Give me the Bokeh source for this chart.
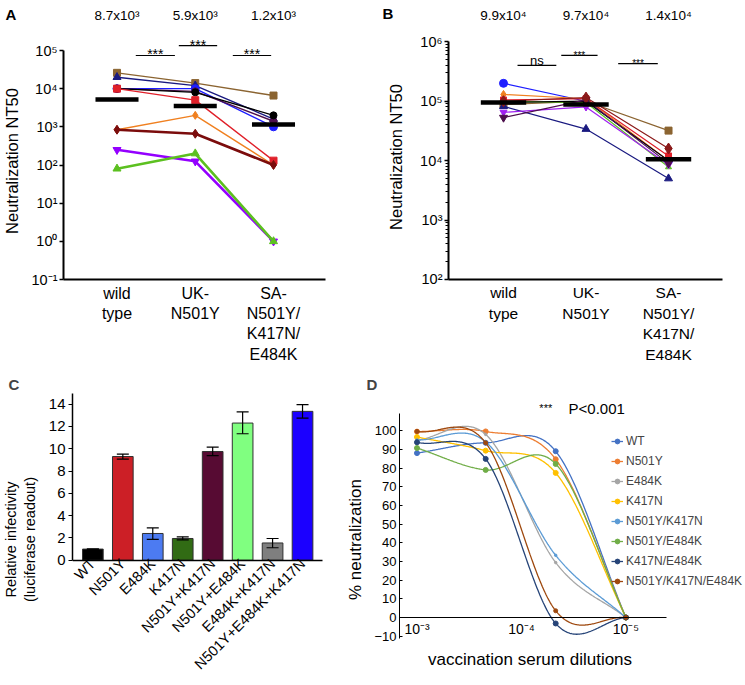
import math
import numpy as np
from bokeh.plotting import figure
from bokeh.layouts import row, column
from bokeh.models import (Range1d, FixedTicker, CustomJSTickFormatter,
                          Legend, LegendItem, ColumnDataSource, Whisker, TeeHead)
from bokeh.embed import file_html
from bokeh.resources import INLINE
from bokeh.core.properties import value

FONT = "Liberation Sans"

# ---------------- Panel A data ----------------
A_CATEGORIES = ["wild\ntype", "UK-\nN501Y", "SA-\nN501Y/\nK417N/\nE484K"]
A_GEOMEAN = ["8.7x10³", "5.9x10³", "1.2x10³"]
A_BROWN = [2.6e4, 1.4e4, 6.6e3]
A_NAVY = [2.0e4, 1.2e4, 1.6e3]
A_BLUE = [1.0e4, 1.0e4, 1.0e3]
A_DPURPLE = [1.0e4, 8.5e3, 1.4e3]
A_BLACK = [1.0e4, 8.0e3, 2.0e3]
A_RED = [1.0e4, 5.0e3, 1.3e2]
A_ORANGE = [8.4e2, 2.0e3, 1.0e2]
A_DRED = [8.4e2, 6.6e2, 1.0e2]
A_PURPLE = [2.5e2, 1.25e2, 1.0]
A_GREEN = [80, 2.0e2, 1.0]
A_MEDIAN = [5.2e3, 3.5e3, 1.15e3]
A_SIG_TEXT = ["***", "***", "***"]
A_SIG_X0 = [1.24, 1.79, 2.48]
A_SIG_X1 = [1.74, 2.28, 2.97]
A_SIG_Y = [7.4e4, 1.35e5, 7.4e4]

# ---------------- Panel B data ----------------
B_CATEGORIES = ["wild\ntype", "UK-\nN501Y", "SA-\nN501Y/\nK417N/\nE484K"]
B_GEOMEAN = ["9.9x10⁴", "9.7x10⁴", "1.4x10⁴"]
B_BLUE = [2.0e5, 1.0e5, 1.0e4]
B_ORANGE = [1.3e5, 1.1e5, 1.0e4]
B_RED = [1.05e5, 1.1e5, 1.2e4]
B_DRED = [1.0e5, 1.15e5, 1.6e4]
B_BROWN = [8.8e4, 1.0e5, 3.2e4]
B_GREEN = [1.0e5, 9.5e4, 7.8e3]
B_BLACK = [9.5e4, 1.0e5, 1.0e4]
B_NAVY = [8.2e4, 3.4e4, 5.0e3]
B_PURPLE = [6.5e4, 8.0e4, 8.5e3]
B_DPURPLE = [5.3e4, 1.05e5, 9.0e3]
B_MEDIAN = [9.5e4, 8.8e4, 1.05e4]
B_SIG_TEXT = ["ns", "***", "***"]
B_SIG_X0 = [1.17, 1.70, 2.39]
B_SIG_X1 = [1.64, 2.14, 2.87]
B_SIG_Y = [4.0e5, 5.9e5, 4.3e5]

# ---------------- Panel C data ----------------
C_LABELS = ["WT", "N501Y", "E484K", "K417N", "N501Y+K417N", "N501Y+E484K",
            "E484K+K417N", "N501Y+E484K+K417N"]
C_VALUES = [1.0, 9.3, 2.4, 1.95, 9.75, 12.3, 1.55, 13.35]
C_ERR_LOW = [1.0, 9.07, 1.88, 1.82, 9.38, 11.34, 1.12, 12.75]
C_ERR_HIGH = [1.0, 9.52, 2.9, 2.1, 10.15, 13.3, 1.95, 13.95]
C_COLORS = ["#000000", "#CC1F26", "#4C7BF2", "#316B14", "#570B33",
            "#80FF80", "#7F7F7F", "#1B00FF"]

# ---------------- Panel D data ----------------
D_DILUTIONS = [1e-3, 2.2e-4, 4.7e-5, 1e-5]
D_NAMES = ["WT", "N501Y", "E484K", "K417N", "N501Y/K417N", "N501Y/E484K",
           "K417N/E484K", "N501Y/K417N/E484K"]
D_WT = [88.0, 93.5, 89.0, 0.0]
D_N501Y = [99.5, 99.6, 84.7, 0.0]
D_E484K = [95.0, 98.0, 29.4, 0.0]
D_K417N = [96.6, 89.3, 77.4, 0.0]
D_N501Y_K417N = [95.0, 94.0, 33.3, 0.0]
D_N501Y_E484K = [90.7, 79.0, 82.2, 0.0]
D_K417N_E484K = [93.8, 84.9, -3.2, 0.0]
D_N501Y_K417N_E484K = [99.6, 93.5, 3.6, 0.0]
D_COLORS = ["#4472C4", "#ED7D31", "#A5A5A5", "#FFC000", "#5B9BD5",
            "#70AD47", "#264478", "#9E480E"]

SUP_JS = """
const m = {"-":"⁻","0":"⁰","1":"¹","2":"²","3":"³","4":"⁴","5":"⁵","6":"⁶","7":"⁷","8":"⁸","9":"⁹"};
const e = Math.round(Math.log10(tick));
return "10" + String(e).split("").map(c => m[c]).join("");
"""


def base_style(p):
    p.outline_line_color = None
    p.xgrid.visible = False
    p.ygrid.visible = False
    p.background_fill_color = "white"
    p.border_fill_color = "white"
    for ax in p.axis:
        ax.major_label_text_font = FONT
        ax.axis_label_text_font = FONT
        ax.axis_label_text_font_style = "normal"
        ax.axis_line_color = "black"
        ax.major_tick_line_color = "black"
        ax.minor_tick_line_color = "black"
        ax.major_label_text_color = "black"
        ax.axis_label_text_color = "black"


def hermite_curve(u, v, n=240):
    """Smooth cubic Hermite path through the points (finite-difference tangents)."""
    u = np.asarray(u, float)
    v = np.asarray(v, float)
    m = np.empty_like(v)
    m[0] = (v[1] - v[0]) / (u[1] - u[0])
    m[-1] = (v[-1] - v[-2]) / (u[-1] - u[-2])
    m[1:-1] = (v[2:] - v[:-2]) / (u[2:] - u[:-2])
    us, vs = [], []
    for i in range(len(u) - 1):
        h = u[i + 1] - u[i]
        s = np.linspace(0, 1, n // (len(u) - 1))
        h00 = 2 * s ** 3 - 3 * s ** 2 + 1
        h10 = s ** 3 - 2 * s ** 2 + s
        h01 = -2 * s ** 3 + 3 * s ** 2
        h11 = s ** 3 - s ** 2
        us.append(u[i] + s * h)
        vs.append(h00 * v[i] + h10 * h * m[i] + h01 * v[i + 1] + h11 * h * m[i + 1])
    return np.concatenate(us), np.concatenate(vs)


def scatter_panel(p, cats, series, medians, geo, geo_y, sig_text, sig_x0, sig_x1, sig_y,
                  sig_sizes, sig_offsets, cat_size, ticks, minor, bounds_y, bounds_x,
                  yaxis_x, xaxis_y, letter, letter_xy, ylabel_xy):
    xs = list(range(1, len(cats) + 1))
    base_style(p)
    ya = p.yaxis[0]
    ya.fixed_location = yaxis_x
    ya.ticker = FixedTicker(ticks=ticks, minor_ticks=minor)
    ya.formatter = CustomJSTickFormatter(code=SUP_JS)
    ya.bounds = bounds_y
    ya.axis_line_width = 2
    ya.major_tick_line_width = 1.5
    ya.major_tick_in = 0
    ya.major_tick_out = 4
    ya.minor_tick_in = 0
    ya.minor_tick_out = 3
    ya.major_label_text_font_size = "14.5px"
    ya.major_label_standoff = 2
    xa = p.xaxis[0]
    xa.fixed_location = xaxis_y
    xa.ticker = FixedTicker(ticks=xs, minor_ticks=[])
    xa.major_label_overrides = {x: c for x, c in zip(xs, cats)}
    xa.bounds = bounds_x
    xa.axis_line_width = 2
    xa.major_tick_out = 0
    xa.major_tick_in = 0
    xa.major_label_text_font_size = cat_size
    xa.major_label_text_line_height = 1.2
    xa.major_label_standoff = 5

    for vals, color, marker, size, lw in series:
        p.line(xs, vals, line_color=color, line_width=lw)
        p.scatter(xs, vals, marker=marker, size=size, fill_color=color, line_color=color)
    p.segment(x0=[x - 0.275 for x in xs], x1=[x + 0.275 for x in xs], y0=medians, y1=medians,
              line_color="black", line_width=4.5, line_cap="butt")
    p.text(x=xs, y=[geo_y] * len(xs), text=geo, text_font=value(FONT),
           text_font_size="13.5px", text_align="center", text_baseline="middle")
    p.segment(x0=sig_x0, x1=sig_x1, y0=sig_y, y1=sig_y, line_color="black", line_width=1.2)
    src = ColumnDataSource(dict(x=[(a + b) / 2 for a, b in zip(sig_x0, sig_x1)], y=sig_y,
                                t=sig_text, s=sig_sizes, o=sig_offsets))
    p.text(x="x", y="y", text="t", text_font_size="s", y_offset="o", source=src,
           text_font=value(FONT), text_align="center", text_baseline="alphabetic")
    p.text(x=[ylabel_xy[0]], y=[ylabel_xy[1]], text=["Neutralization NT50"],
           angle=math.pi / 2, text_font=value(FONT), text_font_size="16.5px",
           text_align="center", text_baseline="middle")
    p.text(x=[letter_xy[0]], y=[letter_xy[1]], text=[letter], text_font=value(FONT),
           text_font_size="15px", text_font_style="bold", text_align="left",
           text_baseline="top")


def panel_title(p, text, offset):
    p.title.text = text
    p.title.align = "left"
    p.title.offset = offset
    p.title.standoff = 2
    p.title.text_font = FONT
    p.title.text_font_size = "15px"
    p.title.text_font_style = "bold"


# ---------------- Panel A ----------------
pA = figure(width=370, height=372, x_range=Range1d(-0.4888, 3.984),
            y_range=Range1d(10 ** -3.436, 10 ** 6.31), y_axis_type="log",
            output_backend="svg", toolbar_location=None,
            min_border_left=0, min_border_right=20, min_border_top=0, min_border_bottom=0)
A_SERIES = [
    (A_BROWN, "#8B6431", "square", 7, 1.4),
    (A_NAVY, "#1A1A80", "triangle", 8, 1.4),
    (A_BLUE, "#1E1EFF", "circle", 8, 1.4),
    (A_DPURPLE, "#4D0F4D", "circle", 7, 1.4),
    (A_BLACK, "#000000", "circle", 7, 1.4),
    (A_RED, "#E0202A", "square", 7, 1.4),
    (A_ORANGE, "#F08020", "diamond", 8, 1.4),
    (A_DRED, "#7B0C0C", "diamond", 9, 2.6),
    (A_PURPLE, "#9400FF", "inverted_triangle", 8, 2.6),
    (A_GREEN, "#5CC020", "triangle", 8, 2.6),
]
scatter_panel(pA, A_CATEGORIES, A_SERIES, A_MEDIAN, A_GEOMEAN, 8.3e5, A_SIG_TEXT,
              A_SIG_X0, A_SIG_X1, A_SIG_Y, ["14px"] * 3, [-1, -1, -1], "16px",
              [0.1, 1, 10, 100, 1e3, 1e4, 1e5], [], (0.1, 1e5), (0.316, 3.665),
              0.316, 0.1, "A", (-0.425, 10 ** 6.179), (-0.3355, 127))

# ---------------- Panel B ----------------
pB = figure(width=375, height=372, x_range=Range1d(-0.612, 3.836),
            y_range=Range1d(10 ** 0.4343, 10 ** 6.695), y_axis_type="log",
            output_backend="svg", toolbar_location=None,
            min_border_left=0, min_border_right=8, min_border_top=0, min_border_bottom=0)
B_SERIES = [
    (B_BLUE, "#1E1EFF", "circle", 8, 1.2),
    (B_ORANGE, "#F08020", "diamond", 8, 1.2),
    (B_RED, "#E0202A", "square", 6, 1.2),
    (B_BROWN, "#8B6431", "square", 7, 1.2),
    (B_GREEN, "#5CC020", "triangle", 6, 1.2),
    (B_BLACK, "#000000", "circle", 6, 1.2),
    (B_NAVY, "#1A1A80", "triangle", 8, 1.2),
    (B_PURPLE, "#A020F0", "inverted_triangle", 7, 1.2),
    (B_DPURPLE, "#4D0F4D", "inverted_triangle", 8, 1.2),
    (B_DRED, "#8B1A1A", "diamond", 11, 1.2),
]
B_MINOR = [k * 10 ** n for n in range(2, 6) for k in range(2, 10)]
scatter_panel(pB, B_CATEGORIES, B_SERIES, B_MEDIAN, B_GEOMEAN, 2.77e6, B_SIG_TEXT,
              B_SIG_X0, B_SIG_X1, B_SIG_Y, ["13px", "10px", "10px"], [-5, 0, 0], "15.5px",
              [1e2, 1e3, 1e4, 1e5, 1e6], B_MINOR, (100, 1e6), (0.333, 3.655),
              0.333, 100, "B", (-0.467, 10 ** 6.611), (-0.309, 1.15e4))

# ---------------- Panel C ----------------
pC = figure(width=343, height=313, x_range=Range1d(-0.68, 7.867), y_range=Range1d(-11.23, 14.95),
            output_backend="svg", toolbar_location=None,
            min_border_left=67, min_border_right=15, min_border_top=20, min_border_bottom=0)
base_style(pC)
panel_title(pC, "C", -64)
idx = list(range(len(C_LABELS)))
srcC = ColumnDataSource(dict(x=idx, top=C_VALUES, lo=C_ERR_LOW, hi=C_ERR_HIGH, color=C_COLORS))
pC.vbar(x="x", top="top", bottom=0, width=0.69, fill_color="color", line_color="#303030",
        line_width=1, source=srcC)
wh = Whisker(source=srcC, base="x", upper="hi", lower="lo", line_color="black",
             line_width=1.2, level="annotation",
             upper_head=TeeHead(size=12, line_width=1.2, line_color="black"),
             lower_head=TeeHead(size=12, line_width=1.2, line_color="black"))
pC.add_layout(wh)
yc = pC.yaxis[0]
yc.ticker = FixedTicker(ticks=list(range(0, 15, 2)), minor_ticks=[])
yc.bounds = (0, 14.95)
yc.axis_line_width = 1.5
yc.major_tick_out = 4
yc.major_tick_in = 0
yc.major_label_text_font_size = "15px"
yc.major_label_standoff = 3
yc.axis_label = "Relative infectivity\n(luciferase readout)"
yc.axis_label_text_font_size = "14.5px"
yc.axis_label_text_line_height = 1.15
yc.axis_label_standoff = 8
xc = pC.xaxis[0]
xc.fixed_location = 0
xc.ticker = FixedTicker(ticks=idx, minor_ticks=[])
xc.major_label_overrides = {i: c for i, c in zip(idx, C_LABELS)}
xc.major_label_orientation = math.pi / 4
xc.bounds = (-0.68, 7.66)
xc.axis_line_width = 1.5
xc.major_tick_out = 0
xc.major_tick_in = 0
xc.major_label_text_font_size = "14.5px"
xc.major_label_standoff = 1

# ---------------- Panel D ----------------
pD = figure(width=402, height=313, x_axis_type="log",
            x_range=Range1d(10 ** -2.8325, 10 ** -6.145), y_range=Range1d(-36.4, 119.9),
            output_backend="svg", toolbar_location=None,
            min_border_left=52, min_border_right=0, min_border_top=20, min_border_bottom=0)
base_style(pD)
panel_title(pD, "D", -33)
D_SERIES = [D_WT, D_N501Y, D_E484K, D_K417N, D_N501Y_K417N, D_N501Y_E484K,
            D_K417N_E484K, D_N501Y_K417N_E484K]
D_MARK = [5, 5, 2.5, 5, 2.5, 5, 5, 4]
ulog = np.log10(D_DILUTIONS)
items = []
for name, vals, color, msize in zip(D_NAMES, D_SERIES, D_COLORS, D_MARK):
    cu, cv = hermite_curve(ulog, vals)
    lr = pD.line(10 ** cu, cv, line_color=color, line_width=1.3)
    sr = pD.scatter(D_DILUTIONS, vals, marker="circle", size=msize, fill_color=color,
                    line_color=color)
    items.append(LegendItem(label=name, renderers=[lr, sr]))
leg = Legend(items=items, location=(212, 97), label_text_font=FONT,
             label_text_font_size="12px", glyph_width=12, glyph_height=14,
             label_height=14, label_standoff=3, spacing=6, padding=0, margin=0,
             background_fill_alpha=0, border_line_alpha=0)
pD.add_layout(leg)
xd = pD.xaxis[0]
xd.fixed_location = 0
xd.ticker = FixedTicker(ticks=[1e-3, 1e-4, 1e-5], minor_ticks=[])
xd.formatter = CustomJSTickFormatter(code=SUP_JS)
xd.bounds = (10 ** -2.8325, 10 ** -5.388)
xd.axis_line_width = 1
xd.major_tick_out = 0
xd.major_tick_in = 0
xd.major_label_text_font_size = "14px"
xd.major_label_standoff = 4
yd = pD.yaxis[0]
yd.ticker = FixedTicker(ticks=list(range(-10, 101, 10)), minor_ticks=[])
yd.bounds = (-11, 109)
yd.axis_line_width = 1
yd.major_tick_in = 3
yd.major_tick_out = 0
yd.major_label_text_font_size = "13px"
yd.major_label_standoff = 3
yd.axis_label = "% neutralization"
yd.axis_label_text_font_size = "17px"
yd.axis_label_standoff = 6
pD.text(x=[10 ** -4.233], y=[111.9], text=["***"], text_font=value(FONT),
        text_font_size="11px", text_align="center", text_baseline="middle")
pD.text(x=[10 ** -4.451], y=[111.9], text=["P<0.001"], text_font=value(FONT),
        text_font_size="15px", text_align="left", text_baseline="middle")
pD.text(x=[10 ** -4.082], y=[-22.6], text=["vaccination serum dilutions"],
        text_font=value(FONT), text_font_size="17px", text_align="center",
        text_baseline="middle")

layout = column(row(pA, pB), row(pC, pD))
open("out.html", "w").write(file_html(layout, INLINE, title="Figure"))
